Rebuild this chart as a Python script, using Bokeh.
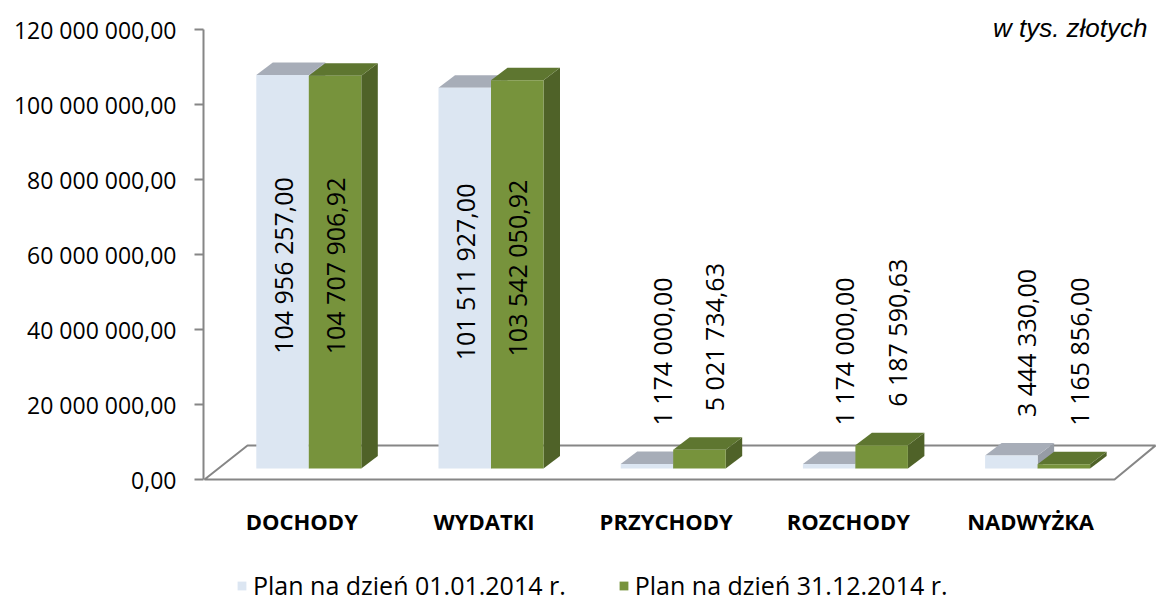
import math
from bokeh.plotting import figure
from bokeh.models import (Range1d, FixedTicker, ColumnDataSource, Legend,
                          LegendItem, Label)
from bokeh.core.properties import value
from bokeh.embed import file_html
from bokeh.resources import INLINE

# ---------------- data ----------------
categories = ["DOCHODY", "WYDATKI", "PRZYCHODY", "ROZCHODY", "NADWYŻKA"]
plan_start = [104956257.00, 101511927.00, 1174000.00, 1174000.00, 3444330.00]
plan_end = [104707906.92, 103542050.92, 5021734.63, 6187590.63, 1165856.00]
series_names = ["Plan na dzień 01.01.2014 r.", "Plan na dzień 31.12.2014 r."]
y_ticks = [0, 20000000, 40000000, 60000000, 80000000, 100000000, 120000000]
unit_note = "w tys. złotych"


def fmt(v):
    return f"{v:,.2f}".replace(",", " ").replace(".", ",")


# ---------------- geometry (styling) ----------------
PX_PER_CAT = 182.2          # pixels per category step
PX_PER_UNIT = 3.75e-6       # pixels per value unit
W, H = 1156, 603
FRAME_L, FRAME_T = 203, 18
X0_PX, Y0_PX = 308.3, 479   # pixel of category 0 centre / value 0


def cx(px):
    return px / PX_PER_CAT


def cy(px):
    return px / PX_PER_UNIT


BAR_W = cx(52.5)
DX = cx(16.5)
DY = cy(12.5)
BASE = cy(11)
FLOOR_BACK = cy(34)
FLOOR_FRONT_L, FLOOR_FRONT_R = cx(204 - X0_PX), cx(1114 - X0_PX)
FLOOR_BACK_L, FLOOR_BACK_R = cx(247 - X0_PX), cx(1155 - X0_PX)

FONT = "Open Sans"
AXIS_GRAY = "#868686"
colors = [
    {"front": "#DCE6F2", "top": "#A7ADB8", "side": "#969CA6"},
    {"front": "#77933C", "top": "#5E7630", "side": "#4F6228"},
]

p = figure(width=W, height=H, output_backend="svg", toolbar_location=None,
           x_range=Range1d(cx(FRAME_L - X0_PX), cx(W - X0_PX)),
           y_range=Range1d(cy(Y0_PX - H), cy(Y0_PX - FRAME_T)),
           x_axis_location=None, min_border_left=FRAME_L, min_border_right=0,
           min_border_top=FRAME_T, min_border_bottom=0)
p.outline_line_color = None
p.xgrid.visible = False
p.ygrid.visible = False
p.background_fill_color = "white"

# y axis
ax = p.yaxis[0]
ax.ticker = FixedTicker(ticks=y_ticks)
ax.major_label_overrides = {t: fmt(t) for t in y_ticks}
ax.bounds = (0, max(y_ticks))
ax.axis_line_color = AXIS_GRAY
ax.axis_line_width = 2
ax.major_tick_line_color = AXIS_GRAY
ax.major_tick_line_width = 2
ax.major_tick_out = 9
ax.major_tick_in = 0
ax.minor_tick_line_color = None
ax.major_label_standoff = 18
ax.major_label_text_font = FONT
ax.major_label_text_font_size = "23px"
ax.major_label_text_color = "#000000"

# floor
p.patch(x=[FLOOR_FRONT_L, FLOOR_FRONT_R, FLOOR_BACK_R, FLOOR_BACK_L],
        y=[0, 0, FLOOR_BACK, FLOOR_BACK],
        fill_color="white", line_color=AXIS_GRAY, line_width=2)

# bars
front_renderers = []
for s, vals in enumerate([plan_start, plan_end]):
    x0 = [i - BAR_W + s * BAR_W for i in range(len(categories))]
    x1 = [a + BAR_W for a in x0]
    top = [BASE + v for v in vals]
    side_xs = [[b, b, b + DX, b + DX] for b in x1]
    side_ys = [[BASE, t, t + DY, BASE + DY] for t in top]
    top_xs = [[a, b, b + DX, a + DX] for a, b in zip(x0, x1)]
    top_ys = [[t, t, t + DY, t + DY] for t in top]
    p.patches(xs=side_xs, ys=side_ys, fill_color=colors[s]["side"], line_color=None)
    p.patches(xs=top_xs, ys=top_ys, fill_color=colors[s]["top"], line_color=None)
    src = ColumnDataSource(dict(left=x0, right=x1, bottom=[BASE] * len(vals), top=top))
    r = p.quad(left="left", right="right", bottom="bottom", top="top", source=src,
               fill_color=colors[s]["front"], line_color=None)
    front_renderers.append(r)

    # data labels
    in_x, in_y, in_t, out_x, out_y, out_t = [], [], [], [], [], []
    for a, v in zip(x0, vals):
        if v > 50e6:
            in_x.append(a + BAR_W / 2)
            in_y.append(BASE + v / 2 + DY / 2)
            in_t.append(fmt(v))
        else:
            out_x.append(a + BAR_W / 2 + cx(15))
            out_y.append(BASE + v + DY + cy(26))
            out_t.append(fmt(v))
    p.text(x=in_x, y=in_y, text=in_t, angle=math.pi / 2, text_align="center",
           text_baseline="middle", text_font=value(FONT), text_font_size="25px",
           text_color="#000000")
    p.text(x=out_x, y=out_y, text=out_t, angle=math.pi / 2, text_align="left",
           text_baseline="middle", text_font=value(FONT), text_font_size="25px",
           text_color="#000000")

# category labels
p.text(x=[i - cx(7) for i in range(len(categories))], y=[cy(Y0_PX - 520)] * len(categories),
       text=categories, text_align="center", text_baseline="middle",
       text_font=value(FONT), text_font_size="22px", text_font_style="bold",
       text_color="#000000")

# unit note
p.add_layout(Label(x=cx(1147 - X0_PX), y=cy(Y0_PX - 27), text=unit_note,
                   text_align="right", text_baseline="middle",
                   text_font="Liberation Sans", text_font_style="italic",
                   text_font_size="26px", text_color="#000000"))

legend = Legend(items=[LegendItem(label=series_names[k], renderers=[front_renderers[k]])
                       for k in range(2)],
                orientation="horizontal", location=(33, 1), padding=0, margin=0,
                spacing=52, glyph_width=11, glyph_height=11, label_standoff=6,
                label_text_font=FONT, label_text_font_size="25px",
                label_text_color="#000000", background_fill_alpha=0,
                border_line_color=None)
p.add_layout(legend)

open("out.html", "w").write(file_html(p, INLINE))
